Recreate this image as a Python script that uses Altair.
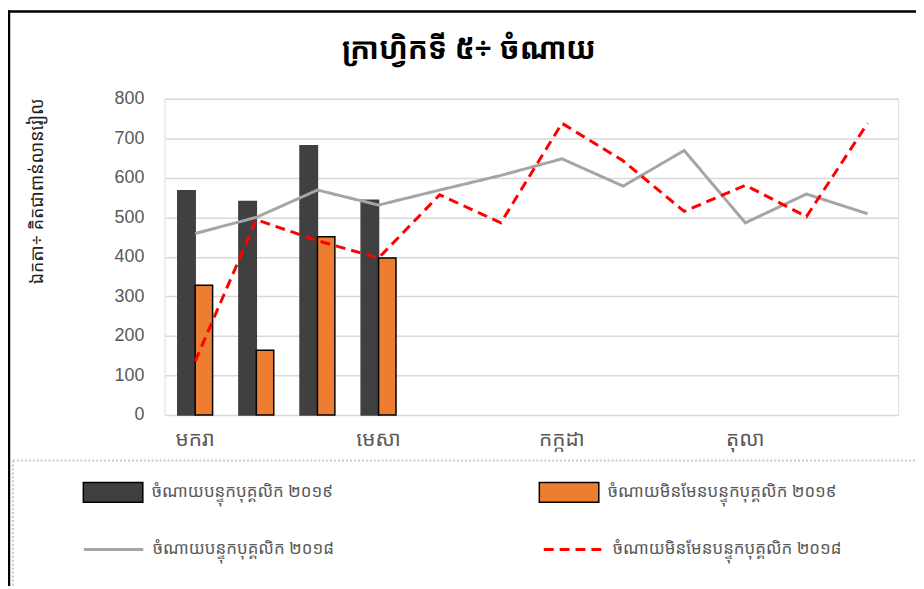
import altair as alt
import pandas as pd

months = ["មករា", "កុម្ភៈ", "មីនា", "មេសា", "ឧសភា", "មិថុនា",
          "កក្កដា", "សីហា", "កញ្ញា", "តុលា", "វិច្ឆិកា", "ធ្នូ"]
shown_months = ["មករា", "មេសា", "កក្កដា", "តុលា"]
bar_months = ["មករា", "កុម្ភៈ", "មីនា", "មេសា"]

staff_2019 = [567, 540, 681, 543]
nonstaff_2019 = [328, 164, 451, 397]
staff_2018 = [459, 500, 569, 531, 569, 606, 648, 579, 669, 486, 559, 509]
nonstaff_2018 = [136, 494, 441, 397, 557, 486, 738, 643, 515, 581, 502, 738]

s19 = "ចំណាយបន្ទុកបុគ្គលិក ២០១៩"
n19 = "ចំណាយមិនមែនបន្ទុកបុគ្គលិក ២០១៩"
s18 = "ចំណាយបន្ទុកបុគ្គលិក ២០១៨"
n18 = "ចំណាយមិនមែនបន្ទុកបុគ្គលិក ២០១៨"

title_text = "ក្រាហ្វិកទី ៥÷ ចំណាយ"
y_title = "ឯកតា÷ គិតជាពាន់លានរៀល"
y_ticks = [0, 100, 200, 300, 400, 500, 600, 700, 800]

KH = "Noto Sans Khmer, Khmer OS System, Khmer OS, Noto Sans, sans-serif"
NUM = "Liberation Sans, Arial, sans-serif"

bars_df = pd.DataFrame({
    "month": bar_months * 2,
    "series": [s19] * 4 + [n19] * 4,
    "value": staff_2019 + nonstaff_2019,
})
lines_df = pd.DataFrame({
    "month": months * 2,
    "series": [s18] * 12 + [n18] * 12,
    "value": staff_2018 + nonstaff_2018,
})

label_expr = "indexof(" + str(shown_months).replace('"', "'") + ", datum.value) >= 0 ? datum.label : ''"

x_enc = alt.X("month:N", sort=months,
              scale=alt.Scale(domain=months, paddingInner=0.43, paddingOuter=0.215),
              axis=alt.Axis(title=None, labelExpr=label_expr, labelAngle=0, ticks=False,
                            domain=False, grid=False, labelFont=KH, labelFontSize=21,
                            labelColor="#595959", labelPadding=14))
y_enc = alt.Y("value:Q",
              scale=alt.Scale(domain=[0, 800], nice=False),
              axis=alt.Axis(values=y_ticks, title=y_title, ticks=False, domain=False,
                            grid=True, gridColor="#d9d9d9", gridWidth=1.5,
                            labelFont=NUM, labelFontSize=18, labelColor="#595959",
                            labelPadding=21, titleFont=KH, titleFontSize=18,
                            titleColor="#222222", titleFontWeight="normal",
                            titleAngle=-90, titleX=-128, titleY=93,
                            titleAlign="center", titleBaseline="middle"))

legend_common = dict(orient="none", direction="horizontal", columns=2, title=None,
                     labelFont=KH, labelFontSize=17, labelColor="#595959",
                     labelOffset=8, labelLimit=500, columnPadding=205)

bars = alt.Chart(bars_df).mark_bar(strokeWidth=1.5).encode(
    x=x_enc,
    y=y_enc,
    xOffset=alt.XOffset("series:N", sort=[s19, n19],
                        scale=alt.Scale(domain=[s19, n19], paddingInner=0, paddingOuter=0)),
    fill=alt.Fill("series:N",
                  scale=alt.Scale(domain=[s19, n19], range=["#404040", "#ED7D31"]),
                  legend=alt.Legend(legendX=-83, legendY=366,
                                    symbolType="M-1,-0.333H1V0.333H-1Z", symbolSize=3600,
                                    symbolStrokeColor="black", symbolStrokeWidth=1.5,
                                    symbolOpacity=1, **legend_common)),
    stroke=alt.condition(alt.datum.series == n19, alt.value("black"), alt.value("#404040")),
)

lines = alt.Chart(lines_df).mark_line(strokeWidth=3).encode(
    x=x_enc,
    y=y_enc,
    stroke=alt.Stroke("series:N",
                      scale=alt.Scale(domain=[s18, n18], range=["#A5A5A5", "#FF0000"]),
                      legend=alt.Legend(legendX=-83, legendY=423, symbolType="stroke",
                                        symbolSize=3600, symbolStrokeWidth=3,
                                        **legend_common)),
    strokeDash=alt.StrokeDash("series:N",
                              scale=alt.Scale(domain=[s18, n18], range=[[1, 0], [10, 6]]),
                              legend=alt.Legend(legendX=-83, legendY=423, symbolType="stroke",
                                                symbolSize=3600, symbolStrokeWidth=3,
                                                **legend_common)),
)

one = alt.Data(values=[{"k": 1}])
frame_top = alt.Chart(one).mark_rule(color="black", strokeWidth=2.5).encode(
    x=alt.value(-158), x2=alt.value(760), y=alt.value(-88))
frame_left = alt.Chart(one).mark_rule(color="black", strokeWidth=2.5).encode(
    x=alt.value(-157), y=alt.value(-89), y2=alt.value(500))
dot_h = alt.Chart(one).mark_rule(color="#c8c8c8", strokeWidth=2, strokeDash=[2, 2]).encode(
    x=alt.value(-153), x2=alt.value(760), y=alt.value(365))
dot_v = alt.Chart(one).mark_rule(color="#c8c8c8", strokeWidth=2, strokeDash=[2, 2]).encode(
    x=alt.value(-153), y=alt.value(365), y2=alt.value(500))

chart = alt.layer(frame_top, frame_left, dot_h, dot_v, bars, lines).properties(
    width=740, height=319,
    title=alt.Title(title_text, font=KH, fontSize=30, fontWeight="bold", color="black",
                    anchor="middle", frame="group", baseline="alphabetic",
                    offset=0, dx=-63, dy=80),
    autosize=alt.AutoSizeParams(type="none"),
    padding={"left": 158, "top": 89, "right": 18, "bottom": 170},
).configure_view(stroke=None).configure(background="white")

chart.save("out.html", embed_options={"renderer": "svg", "actions": False})
